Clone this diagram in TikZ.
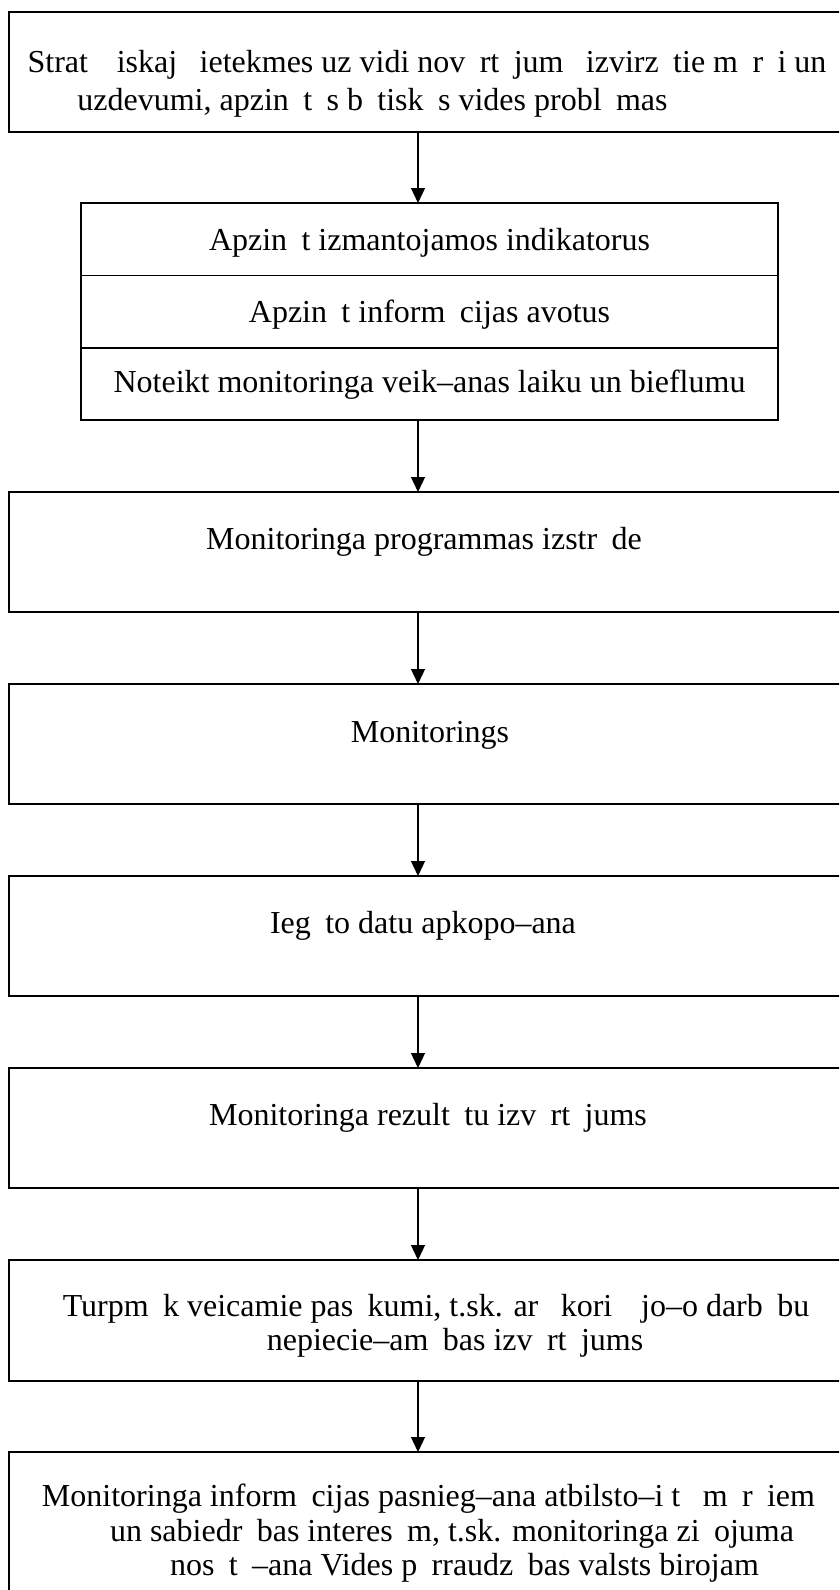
\documentclass[tikz,border=0pt]{standalone}
\usepackage{fontspec}
\setmainfont{Liberation Serif}
\usetikzlibrary{arrows.meta}
\newcommand{\mg}{\hspace{0.45em}}
\begin{document}
\begin{tikzpicture}[x=1bp,y=-1bp,
  boxnode/.style={draw, line width=1.6bp, outer sep=0pt, inner sep=0pt, anchor=north west},
  rownode/.style={draw, line width=1.6bp, outer sep=0pt, inner sep=0pt, anchor=north west,
     minimum width=697bp, minimum height=72.3bp},
  txt/.style={inner sep=0pt, anchor=mid, font=\fontsize{32bp}{36bp}\selectfont},
  arr/.style={line width=1.3bp, -{Triangle[width=14bp,length=15bp]}}]
\useasboundingbox (0,0) rectangle (839,1590);
\clip (0,0) rectangle (839,1590);
\fill[white] (0,0) rectangle (839,1590);
\coordinate (ax) at (418,0);

% boxes
\node[boxnode, minimum width=836bp, minimum height=120bp] (b1) at (9,12) {};
\node[rownode] (r1) at (81,203) {};
\node[rownode] (r2) at (81,275.3) {};
\node[rownode] (r3) at (81,347.7) {};
\node[boxnode, minimum width=836bp, minimum height=120bp] (b3) at (9,492) {};
\node[boxnode, minimum width=836bp, minimum height=120bp] (b4) at (9,684) {};
\node[boxnode, minimum width=836bp, minimum height=120bp] (b5) at (9,876) {};
\node[boxnode, minimum width=836bp, minimum height=120bp] (b6) at (9,1068) {};
\node[boxnode, minimum width=836bp, minimum height=121bp] (b7) at (9,1260) {};
\node[boxnode, minimum width=836bp, minimum height=170bp] (b8) at (9,1452) {};

% texts
\node[txt] (t1a) at (427,70) {Strat\mg\mg iskaj\mg{} ietekmes uz vidi nov\mg rt\mg jum\mg{} izvirz\mg tie m\mg r\mg i un};
\node[txt] (t1b) at (372.5,108) {uzdevumi, apzin\mg t\mg s b\mg tisk\mg s vides probl\mg mas};
\node[txt] (t2a) at ([yshift=-9bp]r1.center) {Apzin\mg t izmantojamos indikatorus};
\node[txt] (t2b) at ([yshift=-9bp]r2.center) {Apzin\mg t inform\mg cijas avotus};
\node[txt] (t2c) at ([yshift=-6bp]r3.center) {Noteikt monitoringa veik–anas laiku un bieflumu};
\node[txt] (t3) at (424,547) {Monitoringa programmas izstr\mg de};
\node[txt] (t4) at (430,740) {Monitorings};
\node[txt] (t5) at (423,931) {Ieg\mg to datu apkopo–ana};
\node[txt] (t6) at (428,1123) {Monitoringa rezult\mg tu izv\mg rt\mg jums};
\node[txt] (t7a) at (436,1314) {Turpm\mg k veicamie pas\mg kumi, t.sk. ar\mg{} kori\mg\mg jo–o darb\mg bu};
\node[txt] (t7b) at (455,1348) {nepiecie–am\mg bas izv\mg rt\mg jums};
\node[txt] (t8a) at (428.5,1504) {Monitoringa inform\mg cijas pasnieg–ana atbilsto–i t\mg{} m\mg r\mg iem};
\node[txt] (t8b) at (452,1539) {un sabiedr\mg bas interes\mg m, t.sk. monitoringa zi\mg ojuma};
\node[txt] (t8c) at (464.5,1573) {nos\mg t\mg –ana Vides p\mg rraudz\mg bas valsts birojam};

% connectors
\draw[arr] (b1.south -| ax) -- (r1.north -| ax);
\draw[arr] (r3.south -| ax) -- (b3.north -| ax);
\draw[arr] (b3.south -| ax) -- (b4.north -| ax);
\draw[arr] (b4.south -| ax) -- (b5.north -| ax);
\draw[arr] (b5.south -| ax) -- (b6.north -| ax);
\draw[arr] (b6.south -| ax) -- (b7.north -| ax);
\draw[arr] (b7.south -| ax) -- (b8.north -| ax);
\end{tikzpicture}
\end{document}
